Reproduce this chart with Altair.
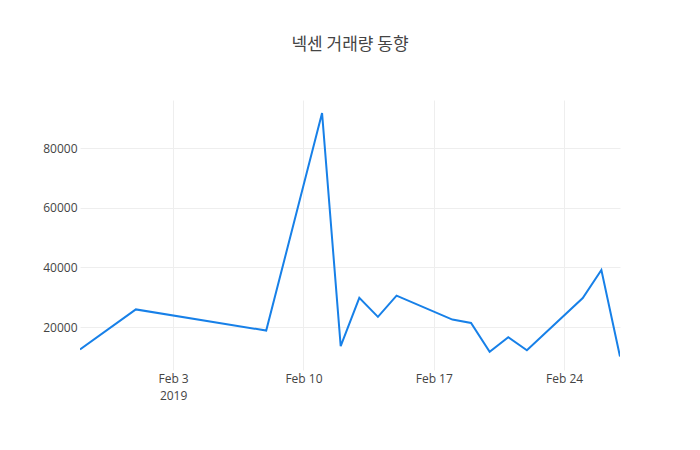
import altair as alt
import pandas as pd

dates = ["2019/01/29", "2019/02/01", "2019/02/08", "2019/02/11", "2019/02/12",
         "2019/02/13", "2019/02/14", "2019/02/15", "2019/02/18", "2019/02/19",
         "2019/02/20", "2019/02/21", "2019/02/22", "2019/02/25", "2019/02/26",
         "2019/02/27"]
volumes = [12500, 25900, 18800, 91700, 13600, 29800, 23400, 30500, 22500, 21350,
           11700, 16550, 12200, 29700, 39100, 10100]
x_ticks = ["2019/02/03", "2019/02/10", "2019/02/17", "2019/02/24"]
y_ticks = [20000, 40000, 60000, 80000]
title_text = "넥센 거래량 동향"

df = pd.DataFrame({"date": dates, "volume": volumes})

font = "Open Sans"

chart = alt.Chart(df).mark_line(color="#1780e8", strokeWidth=2, clip=True).encode(
    x=alt.X(
        "date:T",
        scale=alt.Scale(domain=["2019/01/29", "2019/02/27"], nice=False),
        axis=alt.Axis(
            title=None,
            values=[alt.DateTime(year=2019, month=2, date=d) for d in [3, 10, 17, 24]],
            labelExpr="datum.index == 0 ? [timeFormat(datum.value, '%b %-d'), '2019'] : timeFormat(datum.value, '%b %-d')",
            grid=True,
            gridColor="#eeeeee",
            gridWidth=1,
            ticks=False,
            domain=False,
            labelPadding=3,
            labelFont=font,
            labelFontSize=12,
            labelColor="#444444",
            labelLineHeight=17,
        ),
    ),
    y=alt.Y(
        "volume:Q",
        scale=alt.Scale(domain=[5590, 96090], nice=False, zero=False),
        axis=alt.Axis(
            title=None,
            values=y_ticks,
            format="d",
            grid=True,
            gridColor="#eeeeee",
            gridWidth=1,
            ticks=False,
            domain=False,
            labelPadding=3,
            labelFont=font,
            labelFontSize=12,
            labelColor="#444444",
        ),
    ),
).properties(
    width=540,
    height=270,
    title=alt.TitleParams(
        text=title_text,
        anchor="middle",
        font="Noto Sans CJK KR",
        fontSize=17,
        fontWeight="normal",
        color="#444444",
        offset=46,
    ),
    autosize=alt.AutoSizeParams(type="none"),
    padding={"left": 72, "top": 92, "right": 72, "bottom": 72},
).configure_view(stroke=None)

chart.save("out.html", embed_options={"renderer": "svg", "actions": False})
